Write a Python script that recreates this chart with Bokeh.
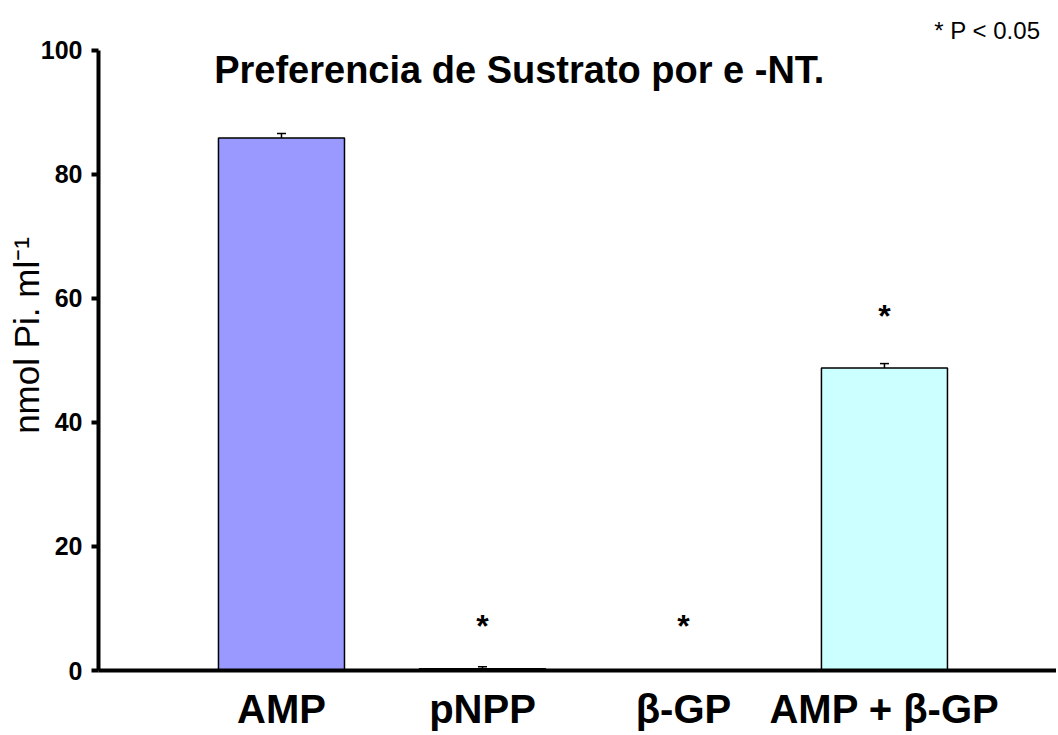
from bokeh.plotting import figure
from bokeh.models import (Range1d, ColumnDataSource, Whisker, TeeHead, Label,
                          FixedTicker)
from bokeh.core.properties import value
from bokeh.embed import file_html
from bokeh.resources import INLINE

# ---- data ----
categories = ["AMP", "pNPP", "β-GP", "AMP + β-GP"]
values = [85.9, 0.3, 0.0, 48.8]
errors = [0.7, 0.3, 0.0, 0.7]
colors = ["#9999FF", "#993366", "#FFFFCC", "#CCFFFF"]
star_marks = ["", "*", "*", "*"]
star_y = [0.0, 7.1, 7.1, 57.1]
y_ticks = [0, 20, 40, 60, 80, 100]
title_text = "Preferencia de Sustrato por e -NT."
note_text = "* P < 0.05"
y_label = "nmol Pi. ml\u207b\u00b9"

FONT = "Liberation Sans"

xs = list(range(1, len(categories) + 1))

p = figure(width=1056, height=733, output_backend="svg", toolbar_location=None,
           x_range=Range1d(0.0896, 4.856), y_range=Range1d(0, 108.06),
           min_border_left=98, min_border_right=0, min_border_top=0,
           min_border_bottom=63)
p.background_fill_color = "white"
p.border_fill_color = "white"
p.outline_line_color = None
p.xgrid.visible = False
p.ygrid.visible = False

bar_src = ColumnDataSource(dict(x=xs, top=values, color=colors))
p.vbar(x="x", top="top", width=0.627, source=bar_src, fill_color="color",
       line_color="black", line_width=1.5)

err_idx = [i for i, e in enumerate(errors) if e > 0]
err_src = ColumnDataSource(dict(x=[xs[i] for i in err_idx],
                                upper=[values[i] + errors[i] for i in err_idx],
                                lower=[values[i] - errors[i] for i in err_idx]))
p.add_layout(Whisker(base="x", upper="upper", lower="lower", source=err_src,
                     line_color="black", line_width=1.5,
                     upper_head=TeeHead(size=9, line_width=1.5, line_color="black"),
                     lower_head=TeeHead(size=9, line_width=1.5, line_color="black")))

# significance stars
st_idx = [i for i, s in enumerate(star_marks) if s]
p.text(x=[xs[i] for i in st_idx], y=[star_y[i] for i in st_idx],
       text=[star_marks[i] for i in st_idx], text_font=value(FONT),
       text_font_size="32px", text_font_style="bold", text_align="center",
       text_baseline="middle", text_color="black")

# chart title inside the plot area
p.add_layout(Label(x=0.665, y=96.9, text=title_text, text_font=FONT,
                   text_font_size="38px", text_font_style="bold",
                   text_color="black", text_align="left",
                   text_baseline="alphabetic"))

# significance note, top right
p.add_layout(Label(x=4.776, y=103.2, text=note_text, text_font=FONT,
                   text_font_size="24px", text_font_style="normal",
                   text_color="black", text_align="right",
                   text_baseline="alphabetic"))

# y axis
ya = p.yaxis[0]
ya.bounds = (0, 100)
ya.ticker = FixedTicker(ticks=y_ticks)
ya.axis_line_width = 4
ya.axis_line_color = "black"
ya.major_tick_out = 7
ya.major_tick_in = 0
ya.major_tick_line_width = 4
ya.minor_tick_out = 0
ya.minor_tick_in = 0
ya.major_label_text_font = FONT
ya.major_label_text_font_size = "25px"
ya.major_label_text_font_style = "bold"
ya.major_label_text_color = "black"
ya.major_label_standoff = 9
ya.axis_label = y_label
ya.axis_label_text_font = FONT
ya.axis_label_text_font_size = "35px"
ya.axis_label_text_font_style = "normal"
ya.axis_label_text_color = "black"
ya.axis_label_standoff = -8

# x axis
xa = p.xaxis[0]
xa.ticker = FixedTicker(ticks=xs)
xa.major_label_overrides = {x: c for x, c in zip(xs, categories)}
xa.axis_line_width = 4
xa.axis_line_color = "black"
xa.major_tick_out = 0
xa.major_tick_in = 0
xa.minor_tick_out = 0
xa.minor_tick_in = 0
xa.major_label_text_font = FONT
xa.major_label_text_font_size = "40px"
xa.major_label_text_font_style = "bold"
xa.major_label_text_color = "black"
xa.major_label_standoff = 16

open("out.html", "w").write(file_html(p, INLINE))
